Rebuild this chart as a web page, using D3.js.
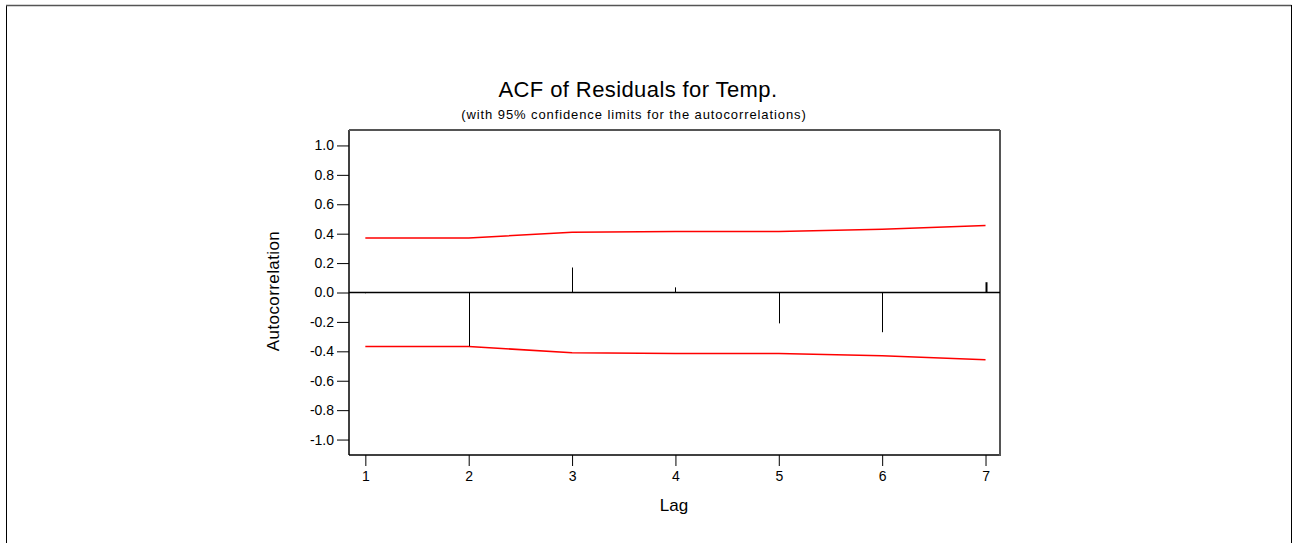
<!DOCTYPE html>
<html>
<head>
<meta charset="utf-8">
<script src="https://cdn.jsdelivr.net/npm/d3@7"></script>
<style>
  html, body { margin: 0; padding: 0; background: #fff; }
  svg { display: block; }
  text { font-family: Arial, "Liberation Sans", sans-serif; fill: #000; }
</style>
</head>
<body>
<svg id="chart" width="1293" height="543"></svg>
<script>
// ---- data ----
const lags = [1, 2, 3, 4, 5, 6, 7];
const acfValues = [-0.005, -0.365, 0.17, 0.035, -0.21, -0.27, 0.07];
const upperLimits = [0.37, 0.37, 0.41, 0.414, 0.415, 0.43, 0.455];
const lowerLimits = [-0.367, -0.367, -0.41, -0.414, -0.415, -0.43, -0.457];
const yTickValues = [1.0, 0.8, 0.6, 0.4, 0.2, 0.0, -0.2, -0.4, -0.6, -0.8, -1.0];
const titleText = "ACF of Residuals for Temp.";
const subtitleText = "(with 95% confidence limits for the autocorrelations)";
const xLabel = "Lag";
const yLabel = "Autocorrelation";

const svg = d3.select("#chart");
const FONT = "Arial, 'Liberation Sans', sans-serif";

// outer frame
svg.append("line").attr("x1", 6.5).attr("y1", 5).attr("x2", 6.5).attr("y2", 543).attr("stroke", "#000").attr("stroke-width", 1);
svg.append("line").attr("x1", 6).attr("y1", 5.5).attr("x2", 1291.5).attr("y2", 5.5).attr("stroke", "#555").attr("stroke-width", 1.5);
svg.append("line").attr("x1", 1291.5).attr("y1", 5).attr("x2", 1291.5).attr("y2", 543).attr("stroke", "#000").attr("stroke-width", 1);

const L = 349, R = 1000, T = 130, B = 455;

const x = d3.scaleLinear().domain([0.842, 7.14]).range([L, R]);
const y = d3.scaleLinear().domain([-1.105, 1.105]).range([B, T]);

// titles
svg.append("text").attr("x", 638).attr("y", 97).attr("text-anchor", "middle")
  .style("font-size", "22px").style("letter-spacing", "0.4px").text(titleText);
svg.append("text").attr("x", 634).attr("y", 119).attr("text-anchor", "middle")
  .style("font-size", "13px").style("letter-spacing", "0.9px").text(subtitleText);

const fmt = d => d3.format(".1f")(d).replace("\u2212", "-");

// axes
const yAxis = d3.axisLeft(y).tickValues(yTickValues).tickFormat(fmt).tickSize(12).tickPadding(3);
const gy = svg.append("g").attr("transform", `translate(${L},0)`).call(yAxis);
gy.select(".domain").remove();
gy.selectAll("text").style("font-size", "14px").style("font-family", FONT);
gy.selectAll("line").attr("stroke", "#000");

const xAxis = d3.axisBottom(x).tickValues(lags).tickFormat(d3.format("d")).tickSize(11).tickPadding(5);
const gx = svg.append("g").attr("transform", `translate(0,${B})`).call(xAxis);
gx.select(".domain").remove();
gx.selectAll("text").style("font-size", "14px").style("font-family", FONT);
gx.selectAll("line").attr("stroke", "#000");

// axis labels
svg.append("text").attr("x", 674).attr("y", 511).attr("text-anchor", "middle")
  .style("font-size", "17px").text(xLabel);
svg.append("text").attr("transform", `translate(279,291) rotate(-90)`).attr("text-anchor", "middle")
  .style("font-size", "17px").style("letter-spacing", "0.4px").text(yLabel);

// plot frame
svg.append("line").attr("x1", L).attr("y1", B).attr("x2", R).attr("y2", B).attr("stroke", "#000").attr("stroke-width", 1.5);
svg.append("line").attr("x1", L).attr("y1", T).attr("x2", L).attr("y2", B).attr("stroke", "#000").attr("stroke-width", 1.5);
svg.append("line").attr("x1", L).attr("y1", T).attr("x2", R).attr("y2", T).attr("stroke", "#555").attr("stroke-width", 2);
svg.append("line").attr("x1", R).attr("y1", T).attr("x2", R).attr("y2", B + 1).attr("stroke", "#555").attr("stroke-width", 2);

// zero line
svg.append("line").attr("x1", L).attr("x2", R).attr("y1", y(0)).attr("y2", y(0)).attr("stroke", "#000").attr("stroke-width", 1.5);

// confidence limits
const line = d3.line().x((d, i) => x(lags[i])).y(d => y(d));
svg.append("path").datum(upperLimits).attr("d", line).attr("fill", "none").attr("stroke", "#f00").attr("stroke-width", 1.5);
svg.append("path").datum(lowerLimits).attr("d", line).attr("fill", "none").attr("stroke", "#f00").attr("stroke-width", 1.5);

// spikes
svg.append("g").selectAll("line").data(acfValues).join("line")
  .attr("x1", (d, i) => Math.round(x(lags[i])) + 0.5)
  .attr("x2", (d, i) => Math.round(x(lags[i])) + 0.5)
  .attr("y1", y(0)).attr("y2", d => y(d))
  .attr("stroke", "#000").attr("stroke-width", (d, i) => i === lags.length - 1 ? 2 : 1);
</script>
</body>
</html>
